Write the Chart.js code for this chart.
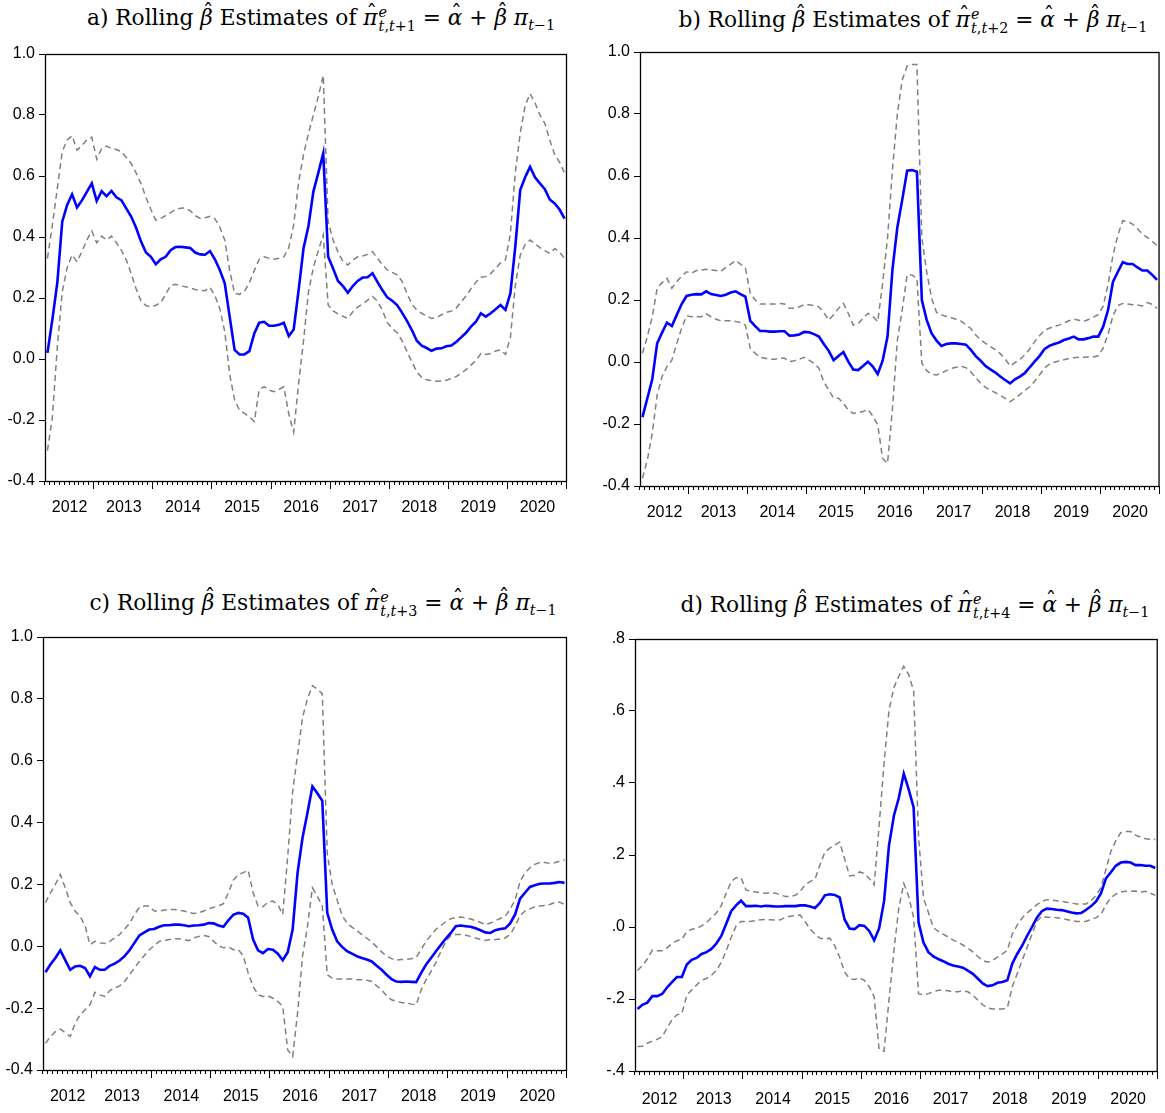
<!DOCTYPE html>
<html>
<head>
<meta charset="utf-8">
<script src="https://cdn.jsdelivr.net/npm/chart.js@4.4.1/dist/chart.umd.min.js"></script>
<style>
  html, body { margin: 0; padding: 0; background: #fff; }
  body { width: 1165px; height: 1113px; position: relative; overflow: hidden; }
  .ttl { position: absolute; width: 640px; text-align: center; white-space: nowrap;
         font-family: 'DejaVu Serif', 'Liberation Serif', serif; font-size: 21.7px; line-height: 30px; color: #000; }
  .stk { display: inline-block; vertical-align: -0.42em; line-height: 1; font-size: 0.66em; text-align: left; margin-left: 1px; }
  .stk span { display: block; }
  .sb { font-size: 0.66em; position: relative; top: 0.35em; }
  .acc { position: relative; display: inline-block; }
  .acc .hat { position: absolute; left: 0.12em; right: 0; text-align: center; font-style: normal; line-height: 1; }
  .acc .hat.tall { top: -0.06em; }
  .acc .hat.low { top: 0.0em; }
  canvas { position: absolute; }
</style>
</head>
<body>
<script>
// monthly rolling estimates, Mar 2012 .. Dec 2020
const N_MONTHS = 106;
const FIRST_JAN = 10;          // Jan 2013 is month 10
const YEARS = ['2012', '2013', '2014', '2015', '2016', '2017', '2018', '2019', '2020'];

// a) horizon t+1
const A_BETA = [0.02, 0.13, 0.25, 0.45, 0.505, 0.54, 0.497, 0.52, 0.548, 0.576,
  0.518, 0.55, 0.534, 0.551, 0.53, 0.521, 0.494, 0.467, 0.43, 0.385,
  0.349, 0.335, 0.311, 0.327, 0.335, 0.357, 0.367, 0.368, 0.366, 0.364,
  0.349, 0.343, 0.342, 0.354, 0.327, 0.292, 0.248, 0.139, 0.03, 0.015,
  0.015, 0.026, 0.084, 0.119, 0.122, 0.109, 0.109, 0.112, 0.119, 0.075,
  0.097, 0.226, 0.363, 0.436, 0.549, 0.61, 0.674, 0.335, 0.297, 0.256,
  0.239, 0.217, 0.239, 0.256, 0.267, 0.268, 0.281, 0.253, 0.226, 0.202,
  0.191, 0.177, 0.152, 0.125, 0.095, 0.06, 0.044, 0.036, 0.027, 0.034,
  0.035, 0.042, 0.044, 0.056, 0.071, 0.086, 0.106, 0.122, 0.15, 0.139,
  0.15, 0.163, 0.177, 0.161, 0.215, 0.368, 0.554, 0.596, 0.63, 0.596,
  0.576, 0.557, 0.523, 0.51, 0.49, 0.46];
const A_UPPER = [0.33, 0.44, 0.56, 0.68, 0.718, 0.732, 0.685, 0.70, 0.718, 0.727,
  0.655, 0.69, 0.698, 0.69, 0.687, 0.68, 0.661, 0.641, 0.61, 0.575,
  0.53, 0.49, 0.455, 0.461, 0.47, 0.48, 0.49, 0.494, 0.495, 0.486,
  0.47, 0.461, 0.463, 0.468, 0.46, 0.432, 0.39, 0.29, 0.215, 0.212,
  0.222, 0.25, 0.29, 0.327, 0.335, 0.33, 0.327, 0.33, 0.335, 0.365,
  0.44, 0.58, 0.67, 0.74, 0.80, 0.86, 0.93, 0.45, 0.39, 0.35,
  0.32, 0.308, 0.325, 0.335, 0.338, 0.343, 0.352, 0.33, 0.31, 0.292,
  0.284, 0.276, 0.255, 0.215, 0.18, 0.16, 0.15, 0.141, 0.133, 0.135,
  0.145, 0.153, 0.157, 0.167, 0.187, 0.207, 0.23, 0.252, 0.268, 0.27,
  0.28, 0.297, 0.315, 0.325, 0.41, 0.61, 0.74, 0.83, 0.87, 0.84,
  0.80, 0.773, 0.718, 0.67, 0.645, 0.61];
const A_LOWER = [-0.30, -0.19, 0.04, 0.22, 0.30, 0.341, 0.319, 0.352, 0.39, 0.42,
  0.381, 0.403, 0.39, 0.403, 0.381, 0.357, 0.325, 0.28, 0.23, 0.19,
  0.175, 0.171, 0.176, 0.185, 0.212, 0.24, 0.245, 0.24, 0.237, 0.233,
  0.228, 0.225, 0.224, 0.235, 0.208, 0.165, 0.09, -0.05, -0.134, -0.167,
  -0.178, -0.19, -0.205, -0.10, -0.091, -0.102, -0.107, -0.10, -0.091, -0.18,
  -0.24, -0.08, 0.06, 0.22, 0.30, 0.355, 0.407, 0.177, 0.158, 0.148,
  0.14, 0.133, 0.155, 0.17, 0.18, 0.193, 0.205, 0.19, 0.16, 0.12,
  0.1, 0.086, 0.06, 0.025, -0.01, -0.042, -0.06, -0.068, -0.071, -0.073,
  -0.072, -0.07, -0.063, -0.058, -0.047, -0.035, -0.02, -0.005, 0.018, 0.015,
  0.018, 0.026, 0.03, 0.015, 0.07, 0.24, 0.34, 0.375, 0.39, 0.378,
  0.365, 0.355, 0.346, 0.362, 0.35, 0.33];

// b) horizon t+2
const B_BETA = [-0.178, -0.117, -0.056, 0.06, 0.095, 0.127, 0.116, 0.152, 0.187, 0.213,
  0.217, 0.219, 0.218, 0.228, 0.219, 0.216, 0.213, 0.217, 0.224, 0.228,
  0.219, 0.211, 0.133, 0.116, 0.1, 0.1, 0.098, 0.098, 0.099, 0.099,
  0.085, 0.086, 0.089, 0.097, 0.096, 0.09, 0.082, 0.058, 0.036, 0.006,
  0.019, 0.032, 0.001, -0.024, -0.026, -0.013, 0.001, -0.015, -0.039, 0.004,
  0.082, 0.297, 0.434, 0.523, 0.617, 0.619, 0.614, 0.2, 0.135, 0.092,
  0.069, 0.052, 0.058, 0.06, 0.06, 0.058, 0.056, 0.039, 0.019, 0.004,
  -0.013, -0.024, -0.034, -0.047, -0.058, -0.069, -0.056, -0.047, -0.036, -0.017,
  0.001, 0.019, 0.041, 0.052, 0.058, 0.063, 0.071, 0.076, 0.082, 0.073,
  0.073, 0.077, 0.082, 0.082, 0.114, 0.168, 0.259, 0.291, 0.322, 0.316,
  0.316, 0.305, 0.295, 0.295, 0.281, 0.265];
const B_UPPER = [0.028, 0.082, 0.146, 0.238, 0.256, 0.27, 0.238, 0.259, 0.277, 0.291,
  0.286, 0.295, 0.297, 0.299, 0.297, 0.295, 0.292, 0.305, 0.316, 0.327,
  0.316, 0.302, 0.222, 0.2, 0.187, 0.187, 0.187, 0.187, 0.189, 0.187,
  0.173, 0.173, 0.178, 0.185, 0.185, 0.182, 0.178, 0.159, 0.135, 0.152,
  0.173, 0.189, 0.157, 0.119, 0.123, 0.141, 0.157, 0.148, 0.13, 0.254,
  0.40, 0.62, 0.80, 0.91, 0.955, 0.96, 0.96, 0.40, 0.29, 0.205,
  0.16, 0.152, 0.147, 0.143, 0.138, 0.132, 0.12, 0.108, 0.087, 0.072,
  0.06, 0.05, 0.04, 0.027, 0.01, -0.013, -0.002, 0.008, 0.023, 0.042,
  0.065, 0.085, 0.102, 0.109, 0.115, 0.119, 0.126, 0.133, 0.138, 0.135,
  0.131, 0.137, 0.145, 0.153, 0.18, 0.25, 0.345, 0.41, 0.456, 0.453,
  0.445, 0.43, 0.413, 0.402, 0.39, 0.375];
const B_LOWER = [-0.375, -0.316, -0.23, -0.106, -0.047, -0.015, 0.006, 0.06, 0.109, 0.149,
  0.146, 0.146, 0.146, 0.155, 0.146, 0.138, 0.133, 0.133, 0.133, 0.131,
  0.127, 0.119, 0.044, 0.028, 0.015, 0.012, 0.009, 0.009, 0.012, 0.012,
  0.001, 0.004, 0.009, 0.015, 0.006, -0.004, -0.02, -0.064, -0.09, -0.117,
  -0.117, -0.133, -0.155, -0.166, -0.163, -0.16, -0.153, -0.174, -0.203, -0.311,
  -0.327, -0.15, 0.07, 0.168, 0.281, 0.281, 0.27, -0.004, -0.028, -0.04,
  -0.042, -0.036, -0.028, -0.021, -0.017, -0.014, -0.018, -0.032, -0.05, -0.069,
  -0.082, -0.091, -0.099, -0.108, -0.117, -0.128, -0.118, -0.105, -0.092, -0.08,
  -0.063, -0.042, -0.02, -0.007, -0.001, 0.003, 0.007, 0.011, 0.014, 0.015,
  0.015, 0.016, 0.016, 0.02, 0.045, 0.09, 0.15, 0.182, 0.189, 0.187,
  0.185, 0.184, 0.181, 0.192, 0.186, 0.173];

// c) horizon t+3
const C_BETA = [-0.084, -0.059, -0.038, -0.013, -0.045, -0.076, -0.065, -0.063, -0.07, -0.097,
  -0.067, -0.076, -0.076, -0.063, -0.056, -0.046, -0.032, -0.013, 0.011, 0.035,
  0.045, 0.054, 0.056, 0.063, 0.068, 0.068, 0.07, 0.07, 0.068, 0.065,
  0.067, 0.068, 0.07, 0.075, 0.074, 0.067, 0.063, 0.084, 0.102, 0.108,
  0.105, 0.092, 0.022, -0.013, -0.022, -0.009, -0.011, -0.024, -0.045, -0.019,
  0.054, 0.238, 0.351, 0.432, 0.517, 0.495, 0.47, 0.108, 0.054, 0.016,
  -0.002, -0.016, -0.024, -0.032, -0.038, -0.043, -0.049, -0.063, -0.076, -0.092,
  -0.106, -0.114, -0.115, -0.114, -0.115, -0.116, -0.086, -0.059, -0.038, -0.016,
  0.005, 0.025, 0.043, 0.065, 0.067, 0.065, 0.063, 0.058, 0.052, 0.045,
  0.043, 0.052, 0.056, 0.058, 0.074, 0.103, 0.154, 0.173, 0.192, 0.197,
  0.202, 0.203, 0.203, 0.205, 0.208, 0.205];
const C_UPPER = [0.141, 0.173, 0.2, 0.232, 0.189, 0.141, 0.114, 0.097, 0.067, 0.005,
  0.016, 0.011, 0.009, 0.016, 0.027, 0.038, 0.056, 0.074, 0.103, 0.126,
  0.13, 0.13, 0.114, 0.114, 0.117, 0.119, 0.119, 0.117, 0.114, 0.11,
  0.106, 0.108, 0.114, 0.121, 0.126, 0.13, 0.138, 0.173, 0.214, 0.232,
  0.238, 0.246, 0.173, 0.13, 0.128, 0.143, 0.146, 0.135, 0.103, 0.29,
  0.50, 0.62, 0.74, 0.80, 0.843, 0.832, 0.816, 0.30, 0.20, 0.15,
  0.10, 0.075, 0.062, 0.05, 0.038, 0.026, 0.014, -0.002, -0.018, -0.032,
  -0.04, -0.045, -0.043, -0.042, -0.04, -0.036, -0.01, 0.016, 0.036, 0.055,
  0.067, 0.08, 0.089, 0.093, 0.095, 0.092, 0.088, 0.083, 0.077, 0.07,
  0.075, 0.083, 0.09, 0.097, 0.12, 0.15, 0.21, 0.237, 0.254, 0.265,
  0.271, 0.271, 0.268, 0.27, 0.275, 0.279];
const C_LOWER = [-0.314, -0.292, -0.276, -0.268, -0.279, -0.292, -0.249, -0.222, -0.205, -0.189,
  -0.149, -0.157, -0.162, -0.143, -0.135, -0.128, -0.114, -0.092, -0.07, -0.049,
  -0.03, -0.011, 0.002, 0.016, 0.019, 0.022, 0.024, 0.024, 0.022, 0.018,
  0.027, 0.032, 0.035, 0.032, 0.016, 0.002, -0.005, -0.002, -0.011, -0.011,
  -0.03, -0.086, -0.13, -0.157, -0.162, -0.16, -0.168, -0.178, -0.195, -0.335,
  -0.357, -0.216, -0.032, 0.065, 0.189, 0.162, 0.13, -0.092, -0.103, -0.106,
  -0.106, -0.106, -0.106, -0.108, -0.108, -0.11, -0.114, -0.128, -0.141, -0.16,
  -0.173, -0.178, -0.182, -0.184, -0.187, -0.189, -0.141, -0.108, -0.081, -0.052,
  -0.016, 0.016, 0.035, 0.038, 0.038, 0.036, 0.032, 0.027, 0.022, 0.019,
  0.022, 0.022, 0.024, 0.027, 0.038, 0.065, 0.099, 0.114, 0.121, 0.128,
  0.13, 0.132, 0.135, 0.141, 0.143, 0.135];

// d) horizon t+4
const D_BETA = [-0.228, -0.216, -0.21, -0.192, -0.192, -0.186, -0.168, -0.153, -0.139, -0.139,
  -0.104, -0.091, -0.086, -0.075, -0.07, -0.061, -0.046, -0.025, 0.009, 0.044,
  0.06, 0.073, 0.058, 0.058, 0.059, 0.057, 0.059, 0.058, 0.057, 0.057,
  0.058, 0.058, 0.058, 0.06, 0.06, 0.057, 0.053, 0.067, 0.088, 0.091,
  0.089, 0.082, 0.021, -0.004, -0.006, 0.005, 0.003, -0.011, -0.037, -0.004,
  0.071, 0.226, 0.309, 0.359, 0.426, 0.382, 0.332, 0.012, -0.043, -0.07,
  -0.082, -0.089, -0.095, -0.102, -0.107, -0.11, -0.113, -0.121, -0.13, -0.143,
  -0.157, -0.164, -0.162, -0.155, -0.153, -0.148, -0.102, -0.075, -0.052, -0.025,
  0.0, 0.026, 0.044, 0.051, 0.05, 0.048, 0.047, 0.044, 0.04, 0.038,
  0.039, 0.048, 0.058, 0.071, 0.094, 0.135, 0.152, 0.17, 0.179, 0.181,
  0.179, 0.172, 0.172, 0.17, 0.17, 0.164];
const D_UPPER = [-0.121, -0.107, -0.089, -0.064, -0.066, -0.066, -0.058, -0.046, -0.038, -0.034,
  -0.013, -0.006, -0.004, 0.003, 0.012, 0.026, 0.039, 0.06, 0.094, 0.126,
  0.137, 0.137, 0.103, 0.099, 0.097, 0.095, 0.094, 0.095, 0.094, 0.089,
  0.085, 0.085, 0.088, 0.099, 0.117, 0.126, 0.133, 0.172, 0.208, 0.219,
  0.228, 0.236, 0.19, 0.142, 0.144, 0.153, 0.149, 0.135, 0.117, 0.281,
  0.455, 0.601, 0.665, 0.697, 0.724, 0.701, 0.656, 0.25, 0.08, 0.04,
  -0.002, -0.012, -0.02, -0.028, -0.036, -0.043, -0.05, -0.059, -0.069, -0.082,
  -0.093, -0.098, -0.093, -0.084, -0.075, -0.065, -0.02, 0.005, 0.025, 0.039,
  0.05, 0.062, 0.071, 0.076, 0.075, 0.073, 0.071, 0.069, 0.067, 0.064,
  0.064, 0.064, 0.073, 0.088, 0.11, 0.16, 0.21, 0.24, 0.262, 0.265,
  0.265, 0.255, 0.25, 0.245, 0.244, 0.243];
const D_LOWER = [-0.332, -0.331, -0.323, -0.317, -0.312, -0.305, -0.28, -0.258, -0.244, -0.241,
  -0.189, -0.175, -0.161, -0.148, -0.143, -0.134, -0.121, -0.098, -0.066, -0.029,
  0.003, 0.015, 0.015, 0.016, 0.018, 0.02, 0.021, 0.02, 0.019, 0.02,
  0.027, 0.03, 0.032, 0.033, 0.015, -0.006, -0.02, -0.031, -0.034, -0.031,
  -0.052, -0.084, -0.125, -0.143, -0.146, -0.141, -0.148, -0.166, -0.194, -0.34,
  -0.345, -0.203, -0.066, 0.053, 0.121, 0.085, 0.026, -0.185, -0.189, -0.185,
  -0.18, -0.176, -0.176, -0.177, -0.18, -0.18, -0.177, -0.18, -0.189, -0.203,
  -0.216, -0.225, -0.228, -0.228, -0.228, -0.225, -0.166, -0.13, -0.093, -0.057,
  -0.02, 0.016, 0.03, 0.027, 0.027, 0.026, 0.024, 0.021, 0.018, 0.015,
  0.015, 0.016, 0.021, 0.026, 0.035, 0.062, 0.082, 0.091, 0.097, 0.099,
  0.099, 0.1, 0.097, 0.099, 0.094, 0.088];

const fmtLead = v => v.toFixed(1);
const fmtNoLead = v => (v < 0 ? '-' : '') + Math.abs(v).toFixed(1).replace(/^0/, '');

const panels = [
  { letter: 'a', h: '1', beta: A_BETA, up: A_UPPER, lo: A_LOWER, ymin: -0.4, ymax: 1.0, fmt: fmtLead,
    box: [0, 40, 580, 500], yw: 45, pt: 14, pr: 13, xh: 59, lp: 17, title: [321, 18] },
  { letter: 'b', h: '2', beta: B_BETA, up: B_UPPER, lo: B_LOWER, ymin: -0.4, ymax: 1.0, fmt: fmtLead,
    box: [590, 38, 575, 500], yw: 50, pt: 14, pr: 1, xh: 52, lp: 17, title: [913, 20] },
  { letter: 'c', h: '3', beta: C_BETA, up: C_UPPER, lo: C_LOWER, ymin: -0.4, ymax: 1.0, fmt: fmtLead,
    box: [0, 623, 580, 490], yw: 43, pt: 14, pr: 13, xh: 43, lp: 17, title: [323, 603] },
  { letter: 'd', h: '4', beta: D_BETA, up: D_UPPER, lo: D_LOWER, ymin: -0.4, ymax: 0.8, fmt: fmtNoLead,
    box: [585, 625, 580, 488], yw: 50, pt: 14, pr: 1, xh: 42, lp: 19, title: [915, 605] },
];

// year label sits in the middle of its (partial) year
const yearMid = YEARS.map((y, k) => k === 0 ? FIRST_JAN / 2 : FIRST_JAN + 12 * (k - 1) + 6);

const tickFont = { family: "'Liberation Sans Narrow', 'Arial Narrow', 'Liberation Sans', sans-serif", size: 16 };

// box around the plot plus monthly / yearly tick marks under it
const framePlugin = {
  id: 'frame',
  afterDraw(chart) {
    const { ctx, chartArea: a } = chart;
    const x = chart.scales.x;
    ctx.save();
    ctx.strokeStyle = '#000';
    ctx.lineWidth = 1.3;
    ctx.strokeRect(a.left + 0.5, a.top + 0.5, a.right - a.left - 1, a.bottom - a.top);
    ctx.lineWidth = 1;
    ctx.beginPath();
    for (let k = 0; k <= N_MONTHS; k++) {
      const px = Math.round(x.getPixelForValue(k)) - 0.5;
      const major = (k - FIRST_JAN) % 12 === 0;
      ctx.moveTo(px, a.bottom);
      ctx.lineTo(px, a.bottom + (major ? 8 : 4));
    }
    ctx.stroke();
    ctx.restore();
  }
};

const series = vals => vals.map((v, i) => ({ x: i + 0.5, y: v }));

const hat = (ch, kind) => '<span class="acc"><i>' + ch + '</i><span class="hat ' + kind + '">\u02c6</span></span>';

panels.forEach(p => {
  const t = document.createElement('div');
  t.className = 'ttl';
  t.style.left = (p.title[0] - 320) + 'px';
  t.style.top = (p.title[1] - 15) + 'px';
  t.innerHTML = p.letter + ') Rolling ' + hat('\u03b2', 'tall') + ' Estimates of ' + hat('\u03c0', 'low') +
    '<span class="stk"><span><i>e</i></span><span><i>t</i>,<i>t</i>+' + p.h + '</span></span>' +
    ' = ' + hat('\u03b1', 'low') + ' + ' + hat('\u03b2', 'tall') + ' <i>\u03c0</i><span class="sb"><i>t</i>\u22121</span>';
  document.body.appendChild(t);

  const cv = document.createElement('canvas');
  const [l, tp, w, h] = p.box;
  cv.width = w; cv.height = h;
  cv.style.left = l + 'px'; cv.style.top = tp + 'px';
  cv.style.width = w + 'px'; cv.style.height = h + 'px';
  document.body.appendChild(cv);

  new Chart(cv.getContext('2d'), {
    type: 'line',
    data: {
      datasets: [
        { data: series(p.beta), borderColor: '#0000ff', borderWidth: 2.6, pointRadius: 0, tension: 0 },
        { data: series(p.up), borderColor: '#808080', borderWidth: 1.5, borderDash: [6, 4], pointRadius: 0, tension: 0 },
        { data: series(p.lo), borderColor: '#808080', borderWidth: 1.5, borderDash: [6, 4], pointRadius: 0, tension: 0 },
      ]
    },
    options: {
      responsive: false,
      devicePixelRatio: 1,
      animation: false,
      layout: { padding: { left: 0, top: p.pt, right: p.pr, bottom: 0 } },
      plugins: { legend: { display: false }, tooltip: { enabled: false } },
      scales: {
        x: {
          type: 'linear', min: 0, max: N_MONTHS,
          afterBuildTicks: s => { s.ticks = yearMid.map(v => ({ value: v })); },
          ticks: { callback: (v, i) => YEARS[i], font: tickFont, color: '#000', padding: p.lp,
                   maxRotation: 0, autoSkip: false },
          grid: { display: false, drawTicks: false },
          border: { display: false },
          afterFit: s => { s.height = p.xh; }
        },
        y: {
          min: p.ymin, max: p.ymax,
          ticks: { stepSize: 0.2, callback: v => p.fmt(Math.abs(v) < 1e-9 ? 0 : v), font: tickFont, color: '#000', padding: 4 },
          grid: { drawOnChartArea: false, drawTicks: true, tickLength: 6, color: '#000' },
          border: { display: false },
          afterFit: s => { s.width = p.yw; }
        }
      }
    },
    plugins: [framePlugin]
  });
});
</script>
</body>
</html>
